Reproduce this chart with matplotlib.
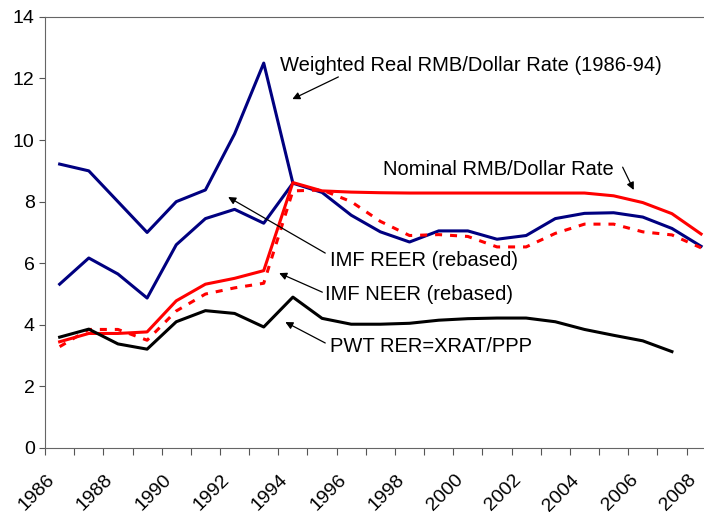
import matplotlib.pyplot as plt
import matplotlib.transforms as mtransforms
import numpy as np

plt.rcParams['font.family'] = ['Liberation Sans', 'DejaVu Sans']

years = np.arange(1986, 2009)

weighted_real = [9.22, 9.0, 8.0, 7.0, 8.0, 8.38, 10.2, 12.5, 8.6]
imf_reer = [5.32, 6.17, 5.65, 4.87, 6.6, 7.45, 7.75, 7.3, 8.6, 8.3, 7.56, 7.02, 6.69,
            7.05, 7.05, 6.78, 6.9, 7.45, 7.62, 7.64, 7.5, 7.13, 6.55]
nominal = [3.45, 3.72, 3.72, 3.77, 4.78, 5.32, 5.51, 5.76, 8.62, 8.35, 8.31, 8.29, 8.28,
           8.28, 8.28, 8.28, 8.28, 8.28, 8.28, 8.19, 7.97, 7.61, 6.95]
imf_neer = [3.29, 3.85, 3.85, 3.5, 4.45, 5.0, 5.2, 5.35, 8.35, 8.38, 8.0, 7.36, 6.9,
            6.93, 6.87, 6.53, 6.53, 6.97, 7.27, 7.27, 7.02, 6.92, 6.5]
pwt = [3.6, 3.86, 3.38, 3.21, 4.1, 4.46, 4.37, 3.93, 4.9, 4.21, 4.02, 4.02, 4.05,
       4.15, 4.2, 4.22, 4.22, 4.1, 3.85, 3.66, 3.48, 3.13]

# text labels: (text, text position, arrow tail, arrow head)
labels = [
    ('Weighted Real RMB/Dollar Rate (1986-94)', (1994.07, 12.43), (1996.06, 12.05), (1994.48, 11.33)),
    ('Nominal RMB/Dollar Rate', (1997.6, 9.03), (2005.81, 9.12), (2006.19, 8.38)),
    ('IMF REER (rebased)', (1995.78, 6.1), (1995.61, 6.33), (1992.28, 8.15)),
    ('IMF NEER (rebased)', (1995.61, 4.97), (1995.51, 5.06), (1994.03, 5.68)),
    ('PWT RER=XRAT/PPP', (1995.78, 3.28), (1995.61, 3.41), (1994.24, 4.09)),
]

fig = plt.figure(figsize=(7.04, 5.12), dpi=100)
ax = fig.add_axes([0.064, 0.125, 0.936, 0.842])

x = years + 0.5
ax.plot(x[:len(weighted_real)], weighted_real, color='#000080', lw=2.2)
ax.plot(x, imf_reer, color='#000080', lw=2.2)
ax.plot(x, imf_neer, color='#ff0000', lw=2.2, dashes=(2.3, 2.6))
ax.plot(x, nominal, color='#ff0000', lw=2.2)
ax.plot(x[:len(pwt)], pwt, color='black', lw=2.2)

ax.set_xlim(1986, 2008.6)
ax.set_ylim(0, 14)
ax.set_yticks(range(0, 15, 2))
ax.set_xticks(range(1986, 2009))
ax.tick_params(axis='y', labelsize=14, length=4, color='#555555')
ax.tick_params(axis='x', length=5, color='#555555', pad=4)
ax.set_xticklabels([str(y) if y % 2 == 0 else '' for y in range(1986, 2009)],
                   rotation=45, ha='right', rotation_mode='anchor', fontsize=14)
shift = mtransforms.ScaledTranslation(0.01, -0.11, fig.dpi_scale_trans)
for lab in ax.get_xticklabels():
    lab.set_transform(lab.get_transform() + shift)
for s in ['left', 'bottom', 'top']:
    ax.spines[s].set_color('#666666')
ax.spines['right'].set_visible(False)

for text, pos, tail, head in labels:
    ax.text(pos[0], pos[1], text, fontsize=14.5, va='center', ha='left')
    ax.annotate('', xy=head, xytext=tail,
                arrowprops=dict(arrowstyle='-|>', color='black', lw=0.9,
                                mutation_scale=11, shrinkA=0, shrinkB=0))

fig.savefig('out.png', dpi=100)
